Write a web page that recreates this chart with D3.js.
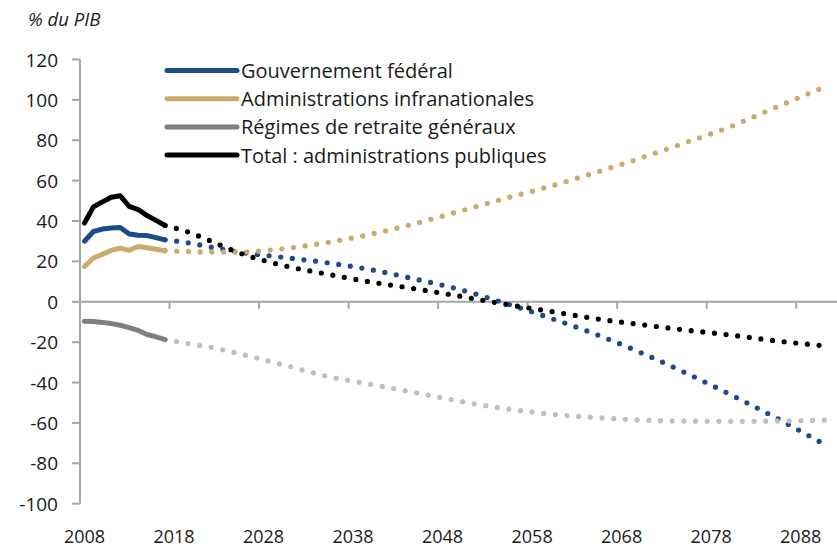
<!DOCTYPE html>
<html>
<head>
<meta charset="utf-8">
<script src="https://cdn.jsdelivr.net/npm/d3@7"></script>
<style>
    body { margin: 0; background: #fff; }
    text { font-family: 'Open Sans', 'Noto Sans', sans-serif; fill: #1a1a1a; }
    .axis-line { stroke: #a6a6a6; stroke-width: 2; fill: none; }
    .tick-label { font-size: 19px; }
    .year-label { font-size: 18px; }
    .legend-label { font-size: 20px; }
</style>
</head>
<body>
<div id="dataChart"></div>
<script>
// historical years, solid lines
const histYears = [2008, 2009, 2010, 2011, 2012, 2013, 2014, 2015, 2016, 2017]
const histFederal = [30, 34.8, 36, 36.5, 36.8, 33.6, 33, 32.8, 31.8, 30.7]
const histSubnational = [17.5, 21.7, 23.5, 25.5, 26.6, 25.5, 27.4, 26.8, 26, 25.3]
const histPension = [-9.6, -9.8, -10.2, -10.8, -11.6, -12.8, -14.2, -16.2, -17.4, -18.7]
const histTotal = [39, 47, 49.5, 51.8, 52.5, 47.2, 45.7, 42.7, 40.3, 37.8]

// projections, dotted lines
const projYears = [2017, 2020, 2022, 2025, 2030, 2035, 2040, 2045, 2050, 2055, 2060, 2065, 2070, 2075, 2080, 2085, 2091]
const projFederal = [30.7, 28.9, 27.2, 24.8, 22.1, 19.4, 15.9, 11.2, 6.0, -0.7, -8.0, -15.9, -24.9, -34.9, -45.6, -56.9, -71.5]
const projSubnational = [25.3, 24.8, 24.6, 24.6, 26.2, 29.3, 33.5, 38.8, 45, 51.2, 57.2, 63.9, 71, 78.6, 86.5, 95.9, 107]
const projPension = [-18.7, -21, -22.4, -25.4, -31, -36.8, -40.9, -45, -49.3, -52.9, -55.6, -57.3, -58.5, -59.1, -59.2, -59.1, -58.6]
const projTotal = [37.8, 33.9, 30.3, 24.7, 18.2, 13.8, 9.8, 6.4, 2.7, -1.2, -4.7, -8.3, -11.2, -13.9, -16.4, -19.2, -22]

const yTicks = [120, 100, 80, 60, 40, 20, 0, -20, -40, -60, -80, -100]
const xTickYears = [2008, 2018, 2028, 2038, 2048, 2058, 2068, 2078, 2088]
const seriesNames = ['Gouvernement fédéral', 'Administrations infranationales', 'Régimes de retraite généraux', 'Total : administrations publiques']

document.addEventListener('DOMContentLoaded', (event) => {
    draw()
});

function draw() {
    const viewBoxWidth = 837
    const viewBoxHeight = 548

    const svg = d3.select('#dataChart')
        .append('svg')
        .attr('width', viewBoxWidth)
        .attr('height', viewBoxHeight)

    // category axis: each year is a slot, ticks sit on slot edges
    const x = d3.scaleLinear().domain([2007.5, 2091.5]).range([80, 832])
    const y = d3.scaleLinear().domain([-100, 120]).range([503.7, 59.5])

    const series = [
        { name: seriesNames[0], hist: histFederal, proj: projFederal, colour: '#1f4a8a', projColour: '#1f4a8a' },
        { name: seriesNames[1], hist: histSubnational, proj: projSubnational, colour: '#c9ab6b', projColour: '#c9ab6b' },
        { name: seriesNames[2], hist: histPension, proj: projPension, colour: '#7f7f7f', projColour: '#bfbfbf' },
        { name: seriesNames[3], hist: histTotal, proj: projTotal, colour: '#000000', projColour: '#000000' },
    ]

    // y axis
    svg.append('line')
        .attr('class', 'axis-line')
        .attr('x1', x(2007.5)).attr('x2', x(2007.5))
        .attr('y1', y(120)).attr('y2', y(-100))
    svg.append('g')
        .selectAll('line')
        .data(yTicks)
        .enter()
        .append('line')
        .attr('class', 'axis-line')
        .attr('x1', x(2007.5) - 8).attr('x2', x(2007.5))
        .attr('y1', d => y(d)).attr('y2', d => y(d))
    svg.append('g')
        .selectAll('text')
        .data(yTicks)
        .enter()
        .append('text')
        .attr('class', 'tick-label')
        .attr('x', 58)
        .attr('y', d => y(d))
        .attr('text-anchor', 'end')
        .attr('dominant-baseline', 'central')
        .text(d => d)

    // x axis on zero
    svg.append('line')
        .attr('class', 'axis-line')
        .attr('x1', x(2007.5)).attr('x2', 837)
        .attr('y1', y(0)).attr('y2', y(0))
    svg.append('g')
        .selectAll('line')
        .data(xTickYears)
        .enter()
        .append('line')
        .attr('class', 'axis-line')
        .attr('x1', d => x(d - 0.5)).attr('x2', d => x(d - 0.5))
        .attr('y1', y(0)).attr('y2', y(0) + 7)
    svg.append('g')
        .selectAll('text')
        .data(xTickYears)
        .enter()
        .append('text')
        .attr('class', 'year-label')
        .attr('x', d => x(d))
        .attr('y', 543)
        .attr('text-anchor', 'middle')
        .text(d => d)

    svg.append('text')
        .attr('x', 28)
        .attr('y', 18)
        .attr('dominant-baseline', 'central')
        .style('font-size', '18.5px')
        .style('font-style', 'italic')
        .text('% du PIB')

    const lineGen = d3.line()
        .x(d => x(d[0]))
        .y(d => y(d[1]))
        .curve(d3.curveMonotoneX)

    const lines = svg.append('g').attr('id', 'lines')

    // dotted projections first, solid history on top
    lines.selectAll('path.proj')
        .data(series)
        .enter()
        .append('path')
        .attr('class', 'proj')
        .attr('d', d => lineGen(projYears.map((yr, i) => [yr, d.proj[i]])))
        .attr('fill', 'none')
        .attr('stroke', d => d.projColour)
        .attr('stroke-width', 5.2)
        .attr('stroke-linecap', 'round')
        .attr('stroke-dasharray', '0 11.7')

    lines.selectAll('path.hist')
        .data(series)
        .enter()
        .append('path')
        .attr('class', 'hist')
        .attr('d', d => lineGen.curve(d3.curveLinear)(histYears.map((yr, i) => [yr, d.hist[i]])))
        .attr('fill', 'none')
        .attr('stroke', d => d.colour)
        .attr('stroke-width', 5)
        .attr('stroke-linejoin', 'round')
        .attr('stroke-linecap', 'round')

    // Legend
    const legendX = 167
    const legendY = 70.5
    const legendStep = 28.2
    const legendLength = 70

    const legendEntry = svg.append('g')
        .attr('id', 'legend')
        .selectAll('g')
        .data(series)
        .enter()
        .append('g')
    legendEntry.append('line')
        .attr('x1', legendX)
        .attr('x2', legendX + legendLength)
        .attr('y1', (d, i) => legendY + legendStep * i)
        .attr('y2', (d, i) => legendY + legendStep * i)
        .attr('stroke', d => d.colour)
        .attr('stroke-width', 5)
        .attr('stroke-linecap', 'round')
    legendEntry.append('text')
        .attr('class', 'legend-label')
        .attr('x', legendX + legendLength + 4)
        .attr('y', (d, i) => legendY + legendStep * i)
        .attr('dominant-baseline', 'central')
        .text(d => d.name)
}
</script>
</body>
</html>
